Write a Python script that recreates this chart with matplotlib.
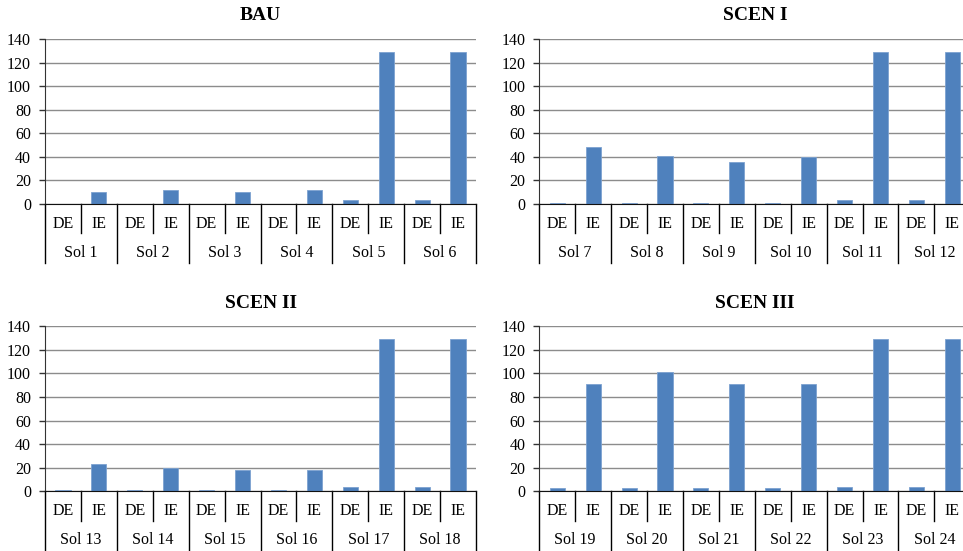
import numpy as np
import matplotlib
matplotlib.use("Agg")
import matplotlib.pyplot as plt
import matplotlib.transforms as mtransforms

plt.rcParams['font.family'] = ['Liberation Serif', 'DejaVu Serif']

# ---- data ----
titles = ["BAU", "SCEN I", "SCEN II", "SCEN III"]
sol_labels = [["Sol %d" % i for i in range(1, 7)],
              ["Sol %d" % i for i in range(7, 13)],
              ["Sol %d" % i for i in range(13, 19)],
              ["Sol %d" % i for i in range(19, 25)]]
sub_labels = ["DE", "IE"]

bau_de = [0.4, 0.4, 0.4, 0.4, 3.5, 3.5]
bau_ie = [10, 12, 10, 11.5, 129, 129]
scen1_de = [1, 1, 1, 1, 3.5, 3.5]
scen1_ie = [48.5, 40.5, 36, 40, 129, 129]
scen2_de = [0.8, 0.8, 0.8, 0.8, 4, 4]
scen2_ie = [23.5, 20, 18, 18, 129, 129]
scen3_de = [2.5, 3.2, 2.5, 2.5, 4, 4]
scen3_ie = [91, 101.5, 91, 91, 129, 129]

de_vals = [bau_de, scen1_de, scen2_de, scen3_de]
ie_vals = [bau_ie, scen1_ie, scen2_ie, scen3_ie]

bar_color = "#4F81BD"
W, H = 963, 551

fig = plt.figure(figsize=(W / 100, H / 100), dpi=100)

# axes boxes in pixels: left, top(y of 140), width, height
boxes = [(45, 39), (539.3, 39), (45, 326.3), (539.3, 326.3)]
aw, ah = 431, 165

for k in range(4):
    x0, ytop = boxes[k]
    ax = fig.add_axes([x0 / W, 1 - (ytop + ah) / H, aw / W, ah / H])

    ngroups = len(sol_labels[k])
    pos = np.arange(ngroups * 2)
    vals = []
    for d, i in zip(de_vals[k], ie_vals[k]):
        vals += [d, i]
    ax.bar(pos, vals, width=0.42, color=bar_color, edgecolor="#7DA2D0",
           linewidth=0.6, zorder=3)

    ax.set_xlim(-0.5, ngroups * 2 - 0.5)
    ax.set_ylim(0, 140)
    ax.set_yticks(np.arange(0, 141, 20))
    ax.yaxis.grid(True, color="#8C8C8C", linewidth=1.0, zorder=0)
    ax.set_axisbelow(True)
    ax.set_xticks([])
    for s in ["top", "right"]:
        ax.spines[s].set_visible(False)
    ax.spines["left"].set_color("#333333")
    ax.spines["bottom"].set_color("#111111")
    ax.spines["left"].set_zorder(4)
    ax.spines["bottom"].set_zorder(4)
    ax.tick_params(axis="y", length=4, width=1, color="#333333",
                   pad=6, labelsize=11.5)

    trans = mtransforms.blended_transform_factory(ax.transData, ax.transAxes)
    # sub category labels and separators
    for p in pos:
        ax.text(p, -0.122, sub_labels[p % 2], transform=trans, ha="center",
                va="center", fontsize=11.5)
    for g in range(ngroups):
        ax.plot([2 * g + 0.5, 2 * g + 0.5], [0, -0.178], transform=trans,
                color="black", linewidth=1.0, clip_on=False)
        ax.text(2 * g + 0.5, -0.298, sol_labels[k][g], transform=trans,
                ha="center", va="center", fontsize=11.5)
    for g in range(ngroups + 1):
        ax.plot([2 * g - 0.5, 2 * g - 0.5], [0, -0.357], transform=trans,
                color="black", linewidth=1.0, clip_on=False)

    ax.text(0.5, 1 + 23 / ah, titles[k], transform=ax.transAxes,
            ha="center", va="center", fontsize=14, fontweight="bold")

fig.savefig("out.png", dpi=100)
